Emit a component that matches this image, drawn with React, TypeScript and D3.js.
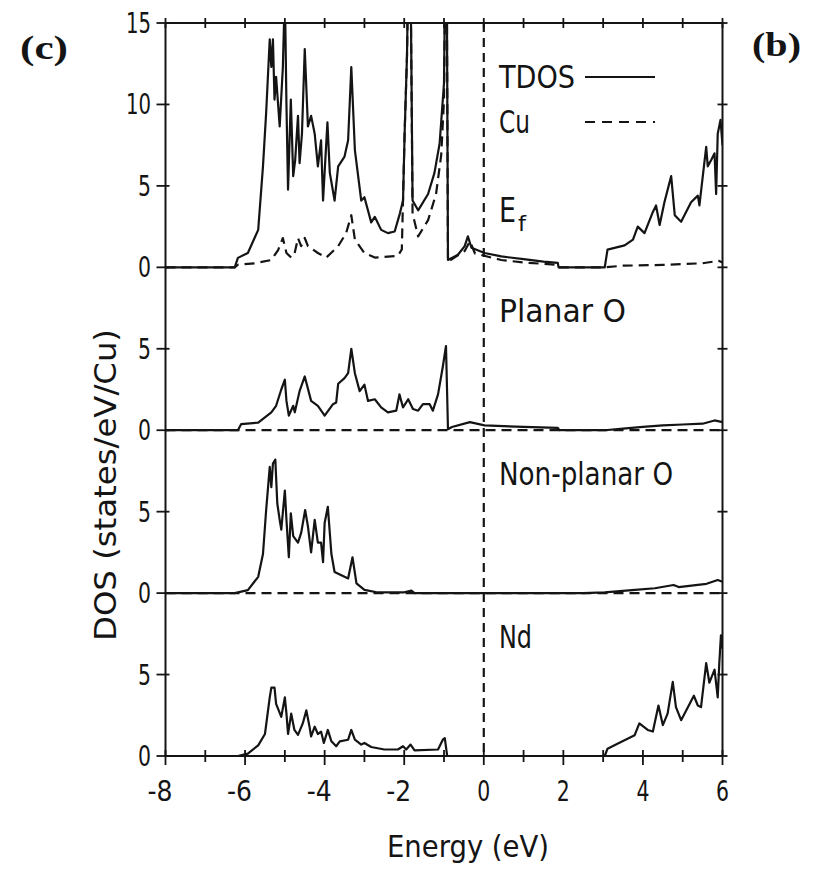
import React from 'react';
import * as d3 from 'd3';

// ---------- data (energy in eV, DOS in states/eV/Cu) ----------
const energyMinorTicks = [-8, -7, -6, -5, -4, -3, -2, -1, 0, 1, 2, 3, 4, 5, 6];
const energyLabels = [-8, -6, -4, -2, 0, 2, 4, 6];

const tdos: [number, number][] = [
  [-8, 0], [-6.26, 0], [-6.18, 0.58], [-5.93, 0.88], [-5.67, 2.3], [-5.55, 6.2], [-5.47, 9.5],
  [-5.38, 14.0], [-5.34, 12.3], [-5.3, 14.0], [-5.26, 10.3], [-5.22, 11.7], [-5.13, 8.65],
  [-5.05, 12.3], [-5.0, 17], [-4.96, 10], [-4.92, 4.77], [-4.85, 10.3], [-4.79, 5.6], [-4.74, 6.6],
  [-4.67, 9.3], [-4.63, 6.4], [-4.57, 8.2], [-4.5, 13.4], [-4.42, 8.65], [-4.34, 9.3], [-4.25, 8.2],
  [-4.17, 6.2], [-4.09, 7.8], [-4.04, 4.1], [-3.93, 8.9], [-3.87, 5.8], [-3.75, 4.1], [-3.66, 6.2],
  [-3.5, 6.8], [-3.41, 7.8], [-3.33, 12.3], [-3.24, 7.2], [-3.08, 4.1], [-3.0, 4.3], [-2.83, 2.76],
  [-2.74, 3.1], [-2.58, 2.3], [-2.41, 2.1], [-2.24, 2.2], [-2.11, 3.3], [-2.03, 4.1], [-1.99, 8.2],
  [-1.93, 13], [-1.9, 18], [-1.84, 18], [-1.79, 4.1], [-1.65, 3.5], [-1.4, 4.5], [-1.24, 5.8],
  [-1.11, 7.6], [-1.0, 11.3], [-0.97, 18], [-0.93, 18], [-0.9, 0.45], [-0.65, 0.77], [-0.48, 1.3],
  [-0.4, 1.9], [-0.31, 1.2], [0.02, 0.88], [0.44, 0.67], [1.0, 0.5], [1.5, 0.35], [1.86, 0.27],
  [1.88, 0], [3.04, 0], [3.11, 1.09], [3.54, 1.35], [3.75, 1.7], [3.87, 2.5], [4.04, 2.1],
  [4.25, 3.4], [4.33, 3.8], [4.42, 2.6], [4.54, 4.0], [4.71, 5.6], [4.8, 3.2], [4.96, 2.8],
  [5.21, 4.0], [5.38, 4.4], [5.42, 3.8], [5.59, 7.4], [5.63, 6.2], [5.72, 6.6], [5.8, 7.0],
  [5.84, 4.5], [5.88, 8.2], [5.95, 9.05], [6.0, 7.5],
];

const cu: [number, number][] = [
  [-8, 0], [-6.26, 0], [-6.18, 0.16], [-5.75, 0.25], [-5.34, 0.45], [-5.17, 1.06], [-5.05, 1.8],
  [-4.96, 0.88], [-4.84, 0.6], [-4.76, 0.8], [-4.67, 1.8], [-4.59, 1.3], [-4.5, 1.8], [-4.42, 1.3],
  [-4.17, 0.88], [-3.96, 0.6], [-3.66, 1.3], [-3.46, 2.1], [-3.33, 3.2], [-3.24, 1.7], [-3.0, 0.88],
  [-2.74, 0.6], [-2.16, 0.7], [-2.06, 1.1], [-1.99, 8.2], [-1.93, 13], [-1.9, 18], [-1.84, 18],
  [-1.79, 3.3], [-1.65, 1.9], [-1.4, 2.9], [-1.2, 4.5], [-1.07, 6.9], [-1.0, 10.3], [-0.97, 18],
  [-0.93, 18], [-0.9, 0.35], [-0.48, 1.0], [-0.35, 1.6], [-0.22, 0.85], [0.44, 0.45], [1.0, 0.3],
  [1.86, 0.15], [1.88, 0], [3.04, 0], [3.5, 0.1], [4.5, 0.15], [5.5, 0.25], [5.9, 0.4], [6.0, 0.3],
];

const planarO: [number, number][] = [
  [-8, 0], [-6.18, 0], [-6.1, 0.37], [-5.67, 0.47], [-5.34, 1.1], [-5.22, 1.5], [-5.09, 2.5],
  [-5.0, 3.1], [-4.96, 1.8], [-4.9, 0.9], [-4.79, 1.5], [-4.75, 1.1], [-4.63, 2.4], [-4.5, 3.3],
  [-4.34, 1.8], [-4.17, 1.5], [-4.0, 0.9], [-3.79, 1.6], [-3.71, 1.7], [-3.66, 2.85], [-3.5, 3.2],
  [-3.41, 3.5], [-3.33, 5.0], [-3.24, 3.5], [-3.12, 2.4], [-3.0, 2.8], [-2.91, 1.8], [-2.74, 1.9],
  [-2.58, 1.4], [-2.41, 1.1], [-2.2, 1.2], [-2.12, 2.2], [-2.03, 1.4], [-1.9, 1.9], [-1.78, 1.3],
  [-1.65, 1.2], [-1.53, 1.6], [-1.36, 1.6], [-1.28, 1.2], [-1.15, 2.2], [-1.03, 3.9], [-0.95, 5.17],
  [-0.9, 0.06], [-0.8, 0.2], [-0.35, 0.5], [0.02, 0.3], [1.0, 0.2], [1.86, 0.15], [1.9, 0],
  [3.04, 0], [3.5, 0.1], [4.0, 0.2], [4.5, 0.3], [5.0, 0.35], [5.5, 0.4], [5.8, 0.6], [6.0, 0.5],
];

const nonPlanarO: [number, number][] = [
  [-8, 0], [-6.26, 0], [-5.93, 0.18], [-5.67, 1.0], [-5.55, 2.4], [-5.47, 5.1], [-5.38, 7.75],
  [-5.34, 6.5], [-5.3, 7.95], [-5.24, 8.2], [-5.19, 5.5], [-5.13, 4.5], [-5.09, 3.9], [-5.0, 6.3],
  [-4.96, 4.5], [-4.9, 2.2], [-4.85, 4.9], [-4.79, 3.5], [-4.67, 3.1], [-4.59, 3.7], [-4.49, 5.1],
  [-4.42, 4.1], [-4.34, 2.5], [-4.25, 4.5], [-4.17, 3.1], [-4.09, 3.1], [-4.04, 1.9], [-4.0, 4.3],
  [-3.92, 5.3], [-3.83, 2.4], [-3.75, 1.3], [-3.5, 1.0], [-3.41, 0.9], [-3.3, 2.2], [-3.2, 0.6],
  [-3.0, 0.2], [-2.66, 0.04], [-2.0, 0.05], [-1.82, 0.15], [-1.74, 0], [2.5, 0], [3.04, 0.05],
  [3.8, 0.2], [4.3, 0.3], [4.77, 0.5], [4.9, 0.37], [5.38, 0.5], [5.6, 0.57], [5.88, 0.8], [6.0, 0.7],
];

const nd: [number, number][] = [
  [-8, 0], [-6.18, 0], [-5.93, 0.15], [-5.67, 0.65], [-5.5, 1.35], [-5.38, 3.6], [-5.34, 4.2],
  [-5.26, 4.2], [-5.22, 3.2], [-5.09, 2.4], [-5.0, 3.6], [-4.96, 2.6], [-4.92, 1.35], [-4.84, 2.6],
  [-4.76, 1.6], [-4.67, 1.3], [-4.55, 2.0], [-4.46, 2.8], [-4.38, 1.8], [-4.34, 1.2], [-4.25, 1.8],
  [-4.17, 1.35], [-4.09, 1.5], [-4.02, 0.8], [-3.92, 1.6], [-3.83, 0.9], [-3.71, 0.6], [-3.62, 0.9],
  [-3.41, 1.0], [-3.33, 1.6], [-3.24, 1.0], [-3.08, 0.7], [-3.0, 0.8], [-2.83, 0.55], [-2.5, 0.4],
  [-2.16, 0.4], [-2.03, 0.6], [-1.95, 0.4], [-1.84, 0.7], [-1.74, 0.35], [-1.15, 0.4], [-1.03, 1.0],
  [-0.98, 1.1], [-0.92, 0], [3.04, 0], [3.11, 0.45], [3.36, 0.75], [3.79, 1.27], [3.91, 2.0],
  [4.12, 1.6], [4.25, 1.5], [4.39, 3.1], [4.5, 1.9], [4.62, 2.6], [4.75, 4.55], [4.83, 3.0],
  [4.96, 2.2], [5.13, 3.0], [5.28, 3.7], [5.38, 3.1], [5.46, 3.0], [5.59, 5.7], [5.67, 4.5],
  [5.8, 5.3], [5.88, 3.6], [5.92, 5.7], [5.96, 7.4], [6.0, 6.6],
];

const zeroLine: [number, number][] = [[-8, 0], [6, 0]];

const panelNames = ['', 'Planar O', 'Non-planar O', 'Nd'];
const panelOffsets = [30, 20, 10, 0];
const panelTicks = [[0, 5, 10, 15], [0, 5], [0, 5], [0, 5]];
const panelSolid = [tdos, planarO, nonPlanarO, nd];
const panelDashed = [cu, zeroLine, zeroLine, zeroLine];
const legendLabels = ['TDOS', 'Cu'];

// ---------- layout ----------
const W = 818, H = 884;
const X0 = 165.5, X1 = 722.5, Y0 = 756, Y1 = 23;
const INK = '#141414';
const FONT = "'DejaVu Sans Condensed', 'DejaVu Sans', sans-serif";
const SERIF = "'Liberation Serif', 'DejaVu Serif', serif";

export default function App() {
  const x = d3.scaleLinear().domain([-8, 6]).range([X0, X1]);
  const y = d3.scaleLinear().domain([0, 45]).range([Y0, Y1]);

  const mkLine = (off: number) =>
    d3.line<[number, number]>().x(d => x(d[0])).y(d => y(d[1] + off));

  return (
    <svg width={W} height={H} style={{ display: 'block', position: 'absolute', left: 0, top: 0, background: '#fff' }}>
      <defs>
        <clipPath id="plotclip">
          <rect x={X0} y={Y1} width={X1 - X0} height={Y0 - Y1} />
        </clipPath>
      </defs>
      <rect width={W} height={H} fill="#fff" />

      {/* curves */}
      <g clipPath="url(#plotclip)" fill="none" stroke={INK} strokeLinejoin="round">
        {panelOffsets.map((off, i) => (
          <g key={i}>
            <path d={mkLine(off)(panelDashed[i]) || ''} strokeWidth={2.2} strokeDasharray="10 6" />
            <path d={mkLine(off)(panelSolid[i]) || ''} strokeWidth={2.2} />
          </g>
        ))}
      </g>

      {/* Fermi level */}
      <line x1={x(0)} x2={x(0)} y1={Y1} y2={Y0} stroke={INK} strokeWidth={2.2} strokeDasharray="9 6" />

      {/* frame */}
      <line x1={X0} x2={X0} y1={Y1} y2={Y0} stroke={INK} strokeWidth={2} />
      <line x1={X1} x2={X1} y1={Y1} y2={Y0} stroke={INK} strokeWidth={2} />
      <line x1={X0} x2={X1} y1={Y1} y2={Y1} stroke={INK} strokeWidth={2} />
      <line x1={X0} x2={X1} y1={Y0} y2={Y0} stroke={INK} strokeWidth={2.2} />

      {/* energy ticks */}
      {energyMinorTicks.map(t => (
        <g key={'t' + t} stroke={INK} strokeWidth={1.8}>
          <line x1={x(t)} x2={x(t)} y1={Y1 - 5} y2={Y1 + 5} />
          <line x1={x(t)} x2={x(t)} y1={Y0 - 6} y2={Y0 + (t % 2 === 0 ? 9 : 6)} />
        </g>
      ))}
      {energyLabels.map(t => (
        <text key={'xl' + t} x={t < 0 ? x(t) + 7 : x(t)} y={801} fontFamily={FONT} fontSize={29}
          textAnchor={t < 0 ? 'end' : 'middle'} fill={INK}
          textLength={t < 0 ? 25 : 13} lengthAdjust="spacingAndGlyphs">
          {String(t)}
        </text>
      ))}

      {/* DOS ticks */}
      {panelOffsets.map((off, i) =>
        panelTicks[i].map(v => (
          <g key={'y' + i + '-' + v}>
            <line x1={X0 - 9} x2={X0 + 4} y1={y(v + off)} y2={y(v + off)} stroke={INK} strokeWidth={1.8} />
            <line x1={X1 - 5} x2={X1 + 5} y1={y(v + off)} y2={y(v + off)} stroke={INK} strokeWidth={1.8} />
            <text x={151} y={y(v + off) + 10} fontFamily={FONT} fontSize={29} textAnchor="end" fill={INK}
              textLength={v >= 10 ? 25 : 13} lengthAdjust="spacingAndGlyphs">
              {String(v)}
            </text>
          </g>
        ))
      )}

      {/* legend */}
      <text x={499} y={88} fontFamily={FONT} fontSize={32} fill={INK} textLength={76} lengthAdjust="spacingAndGlyphs">{legendLabels[0]}</text>
      <line x1={585} x2={655} y1={77} y2={77} stroke={INK} strokeWidth={2} />
      <text x={499} y={133} fontFamily={FONT} fontSize={32} fill={INK} textLength={31} lengthAdjust="spacingAndGlyphs">{legendLabels[1]}</text>
      <line x1={585} x2={655} y1={122} y2={122} stroke={INK} strokeWidth={2} strokeDasharray="10 7" />
      <text x={499} y={222} fontFamily={FONT} fontSize={33} fill={INK} textLength={17} lengthAdjust="spacingAndGlyphs">E</text>
      <text x={518} y={231} fontFamily={FONT} fontSize={22} fill={INK} textLength={8} lengthAdjust="spacingAndGlyphs">f</text>

      {/* panel labels */}
      {panelNames.map((n, i) =>
        n ? (
          <text key={'pn' + i} x={499} y={y(panelOffsets[i] + 10) + 55} fontFamily={FONT} fontSize={32} fill={INK}
            textLength={n === 'Planar O' ? 127 : n === 'Nd' ? 33 : 174} lengthAdjust="spacingAndGlyphs">
            {n}
          </text>
        ) : null
      )}

      {/* axis titles */}
      <text x={468} y={857} fontFamily={FONT} fontSize={31} textAnchor="middle" fill={INK}
        textLength={162} lengthAdjust="spacingAndGlyphs">Energy (eV)</text>
      <text transform={`translate(116, 485) rotate(-90)`} fontFamily={FONT} fontSize={31} textAnchor="middle" fill={INK}
        textLength={312} lengthAdjust="spacingAndGlyphs">DOS (states/eV/Cu)</text>

      {/* figure letters */}
      <text x={20} y={59} fontFamily={SERIF} fontWeight="bold" fontSize={34} fill={INK}
        textLength={48} lengthAdjust="spacingAndGlyphs">(c)</text>
      <text x={752} y={56} fontFamily={SERIF} fontWeight="bold" fontSize={34} fill={INK}
        textLength={49} lengthAdjust="spacingAndGlyphs">(b)</text>
    </svg>
  );
}
